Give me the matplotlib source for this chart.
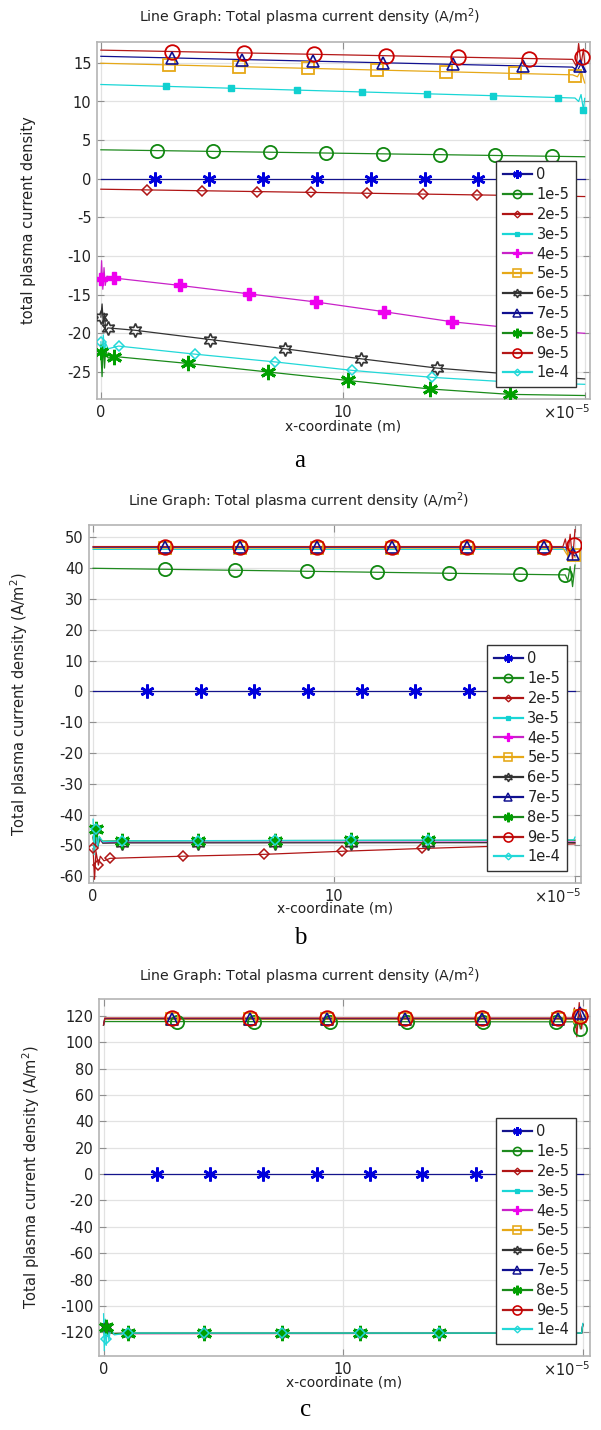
import numpy as np
import matplotlib
matplotlib.use('Agg')
import matplotlib.pyplot as plt

plt.rcParams['font.family'] = ['DejaVu Sans']
plt.rcParams['axes.unicode_minus'] = False

# 图例标签
labels = ['0', '1e-5', '2e-5', '3e-5', '4e-5', '5e-5', '6e-5', '7e-5', '8e-5', '9e-5', '1e-4']

# ---------------- 面板 a (x 单位: 1e-5 m) ----------------
a_x = [
    [0, 20],
    [0, 20],
    [0, 20],
    [0, 19.6, 19.75, 19.85, 19.95, 20],
    [0, 0.03, 0.08, 0.13, 0.18, 0.25, 0.56, 3.26, 6.13, 8.9, 11.7, 14.5, 17.3, 20],
    [0, 19.5, 19.7, 19.85, 20],
    [0, 0.05, 0.1, 0.15, 0.2, 0.29, 1.4, 4.5, 7.6, 10.76, 13.9, 17.0, 20],
    [0, 19.5, 19.7, 19.85, 20],
    [0, 0.05, 0.1, 0.15, 0.2, 0.3, 0.56, 3.6, 6.9, 10.2, 13.6, 16.9, 20],
    [0, 19.5, 19.65, 19.75, 19.85, 19.95, 20],
    [0, 0.05, 0.1, 0.15, 0.2, 0.3, 0.73, 3.9, 7.2, 10.4, 13.7, 16.9, 20],
]
a_y = [
    [0, 0],
    [3.75, 2.85],
    [-1.35, -2.3],
    [12.2, 10.45, 10.0, 10.9, 8.9, 10.4],
    [-13.0, -10.6, -14.3, -11.5, -13.8, -12.6, -12.85, -13.8, -14.9, -15.95, -17.2, -18.5, -19.4, -20.0],
    [14.95, 13.45, 13.2, 14.0, 12.4],
    [-17.9, -16.2, -18.8, -17.4, -19.8, -19.3, -19.6, -20.8, -22.0, -23.3, -24.5, -25.3, -25.9],
    [15.85, 14.45, 14.0, 14.9, 13.8],
    [-22.4, -25.6, -21.0, -24.5, -22.0, -23.2, -23.0, -23.9, -25.0, -26.1, -27.2, -27.9, -28.05],
    [16.65, 15.45, 14.6, 17.5, 14.8, 16.8, 15.0],
    [-21.1, -23.2, -20.2, -22.5, -21.3, -22.0, -21.65, -22.7, -23.7, -24.8, -25.7, -26.3, -26.6],
]
a_mx = [
    [2.23, 4.46, 6.69, 8.92, 11.15, 13.38, 15.6, 17.8],
    [2.3, 4.65, 7.0, 9.3, 11.65, 14.0, 16.3, 18.65],
    [1.9, 4.2, 6.45, 8.7, 11.0, 13.3, 15.55, 17.8],
    [2.7, 5.4, 8.1, 10.8, 13.5, 16.2, 18.9, 19.95],
    [0.0, 0.56, 3.26, 6.13, 8.9, 11.7, 14.5, 17.3],
    [2.83, 5.7, 8.57, 11.4, 14.25, 17.1, 19.6],
    [0.0, 0.29, 1.4, 4.5, 7.6, 10.76, 13.9, 17.0],
    [2.95, 5.85, 8.75, 11.65, 14.55, 17.45, 19.8],
    [0.0, 0.56, 3.6, 6.9, 10.2, 13.6, 16.9],
    [2.95, 5.9, 8.8, 11.8, 14.75, 17.7, 19.9],
    [0.0, 0.73, 3.9, 7.2, 10.4, 13.7, 16.9],
]

# ---------------- 面板 b ----------------
b_x = [
    [0, 20],
    [0, 19.6, 19.7, 19.8, 19.9, 20],
    [0, 0.06, 0.12, 0.22, 0.3, 0.45, 0.7, 3.75, 7.1, 10.35, 13.65, 20],
    [0, 19.6, 19.75, 19.9, 20],
    [0, 0.1, 0.2, 0.4, 20],
    [0, 19.5, 19.7, 19.85, 20],
    [0, 0.06, 0.13, 0.2, 0.28, 0.4, 1.2, 20],
    [0, 19.6, 19.8, 20],
    [0, 0.06, 0.13, 0.2, 0.28, 0.4, 1.2, 20],
    [0, 19.5, 19.6, 19.7, 19.8, 19.9, 20],
    [0, 0.04, 0.08, 0.13, 0.18, 0.25, 0.4, 1.2, 19.95, 20],
]
b_y = [
    [0, 0],
    [39.95, 37.8, 36.0, 40.5, 34.0, 41.0],
    [-51.0, -61.0, -52.0, -56.4, -53.5, -55.0, -54.2, -53.5, -52.9, -51.9, -51.0, -49.5],
    [46.1, 46.1, 45.0, 47.0, 45.5],
    [-45.0, -50.0, -48.0, -49.0, -48.9],
    [46.5, 46.5, 44.0, 46.0, 43.5],
    [-47.0, -51.5, -44.8, -50.5, -47.5, -49.3, -49.2, -49.1],
    [46.8, 46.8, 45.0, 44.0],
    [-47.5, -51.0, -44.6, -50.0, -47.8, -48.6, -48.5, -48.3],
    [47.0, 47.0, 49.5, 44.5, 51.0, 42.5, 52.5],
    [-41.5, -53.0, -44.0, -44.6, -51.0, -47.0, -48.8, -48.5, -48.2, -47.3],
]
b_mx = [
    [2.24, 4.47, 6.68, 8.9, 11.15, 13.35, 15.6, 17.8],
    [2.97, 5.9, 8.87, 11.8, 14.76, 17.7, 19.6],
    [0.0, 0.22, 0.7, 3.75, 7.1, 10.35, 13.65, 16.9],
    [],
    [],
    [3.0, 6.1, 9.3, 12.4, 15.5, 18.7, 19.95],
    [0.13, 1.2, 4.36, 7.55, 10.7, 13.9, 17.1],
    [3.0, 6.1, 9.3, 12.4, 15.5, 18.7, 19.9],
    [0.13, 1.2, 4.36, 7.55, 10.7, 13.9, 17.1],
    [3.0, 6.1, 9.3, 12.4, 15.5, 18.7, 19.95],
    [0.13, 1.2, 4.36, 7.55, 10.7, 13.9, 17.1],
]

# ---------------- 面板 c ----------------
c_x = [
    [0, 20],
    [0, 0.05, 19.6, 19.7, 19.8, 19.9, 20],
    [0, 0.1, 0.2, 0.4, 19.95, 20],
    [0, 0.05, 19.6, 19.75, 19.9, 20],
    [0, 0.1, 0.2, 0.4, 19.95, 20],
    [0, 0.05, 19.6, 19.75, 19.9, 20],
    [0, 0.05, 0.1, 0.15, 0.25, 0.4, 1.0, 19.95, 20],
    [0, 0.05, 19.6, 19.75, 19.9, 20],
    [0, 0.05, 0.1, 0.15, 0.25, 0.4, 1.0, 19.95, 20],
    [0, 0.05, 19.55, 19.65, 19.75, 19.85, 19.95, 20],
    [0, 0.03, 0.07, 0.11, 0.16, 0.22, 0.3, 0.45, 1.0, 19.95, 20],
]
c_y = [
    [0, 0],
    [113.0, 115.6, 115.4, 111.0, 119.0, 110.0, 117.0],
    [-116.0, -121.0, -120.0, -121.0, -120.8, -114.0],
    [113.0, 117.5, 117.5, 114.0, 121.0, 116.0],
    [-116.0, -121.0, -120.0, -121.0, -120.8, -114.0],
    [113.0, 117.2, 117.2, 113.0, 120.0, 115.0],
    [-114.0, -125.0, -116.0, -123.0, -119.5, -121.0, -120.8, -120.8, -114.0],
    [113.0, 117.8, 117.8, 115.0, 122.0, 116.0],
    [-115.0, -124.0, -116.0, -122.5, -120.0, -121.0, -120.7, -120.7, -114.0],
    [113.0, 118.3, 118.3, 126.0, 104.0, 130.0, 110.0, 118.0],
    [-106.0, -134.0, -110.0, -130.0, -114.0, -126.0, -117.0, -122.0, -120.6, -120.6, -113.3],
]
c_mx = [
    [2.23, 4.45, 6.67, 8.9, 11.1, 13.3, 15.55, 17.8],
    [3.06, 6.27, 9.44, 12.65, 15.84, 18.9, 19.9],
    [],
    [],
    [],
    [2.87, 6.1, 9.33, 12.57, 15.8, 18.95, 19.9],
    [0.1, 1.04, 4.2, 7.45, 10.7, 14.0, 17.2],
    [2.87, 6.1, 9.33, 12.57, 15.8, 18.95, 19.9],
    [0.1, 1.04, 4.2, 7.45, 10.7, 14.0, 17.2],
    [2.87, 6.1, 9.33, 12.57, 15.8, 18.95, 19.9],
    [0.1, 1.04, 4.2, 7.45, 10.7, 14.0, 17.2],
]

# 坐标轴范围与刻度
a_ylim = (-28.5, 17.7)
a_yticks = [-25, -20, -15, -10, -5, 0, 5, 10, 15]
b_ylim = (-62.2, 54.0)
b_yticks = [-60, -50, -40, -30, -20, -10, 0, 10, 20, 30, 40, 50]
c_ylim = (-138, 132.7)
c_yticks = [-120, -100, -80, -60, -40, -20, 0, 20, 40, 60, 80, 100, 120]

# 线型样式
line_colors = ['#14148c', '#1f8a1f', '#b01515', '#1ad6d6', '#c822c8', '#e6a817',
               '#333333', '#101090', '#1a8a1a', '#b41818', '#22d8d8']
mark_colors = ['#0000dd', '#118811', '#b01515', '#11d0d0', '#ee00ee', '#e6a817',
               '#333333', '#101090', '#00a000', '#cc0000', '#22d8d8']
markers = [(6, 2, 0), 'o', 'D', 's', 'P', 's', (6, 1, 0), '^', (6, 2, 0), 'o', 'D']
msizes = [10, 9.5, 5.5, 5, 9, 9, 10, 9, 11, 10.5, 5.5]
filled = [True, False, False, True, True, False, False, False, True, False, False]
mews = [1.9, 1.3, 1.1, 1.0, 1.0, 1.3, 1.2, 1.2, 2.1, 1.3, 1.1]
# 绘制顺序 (后画的在上层)
draw_order = [4, 2, 3, 6, 8, 10, 0, 1, 5, 7, 9]

W, H = 601, 1430
fig = plt.figure(figsize=(W / 100, H / 100), dpi=100)


def px_axes(left, right, top, bottom):
    return fig.add_axes([left / W, 1 - bottom / H, (right - left) / W, (bottom - top) / H])


def draw_panel(box, xs, ys, mxs, xlim, ylim, yticks, ylabel, ylabel_x, title_xy, xlabel_y,
               caption, caption_xy):
    left, right, top, bottom = box
    ax = px_axes(left, right, top, bottom)
    handles = {}
    for i in draw_order:
        x = np.array(xs[i], dtype=float)
        y = np.array(ys[i], dtype=float)
        mx = np.array(mxs[i], dtype=float)
        my = np.interp(mx, x, y)
        ax.plot(x, y, color=line_colors[i], lw=0.9, zorder=2 + i * 0.01)
        fc = mark_colors[i] if filled[i] else 'none'
        ax.plot(mx, my, ls='none', marker=markers[i], ms=msizes[i], mec=mark_colors[i],
                mfc=fc, mew=mews[i], zorder=3 + draw_order.index(i) * 0.01)
        h, = ax.plot([], [], color=line_colors[i], lw=1.6, marker=markers[i],
                     ms=msizes[i] * 0.62, mec=mark_colors[i], mfc=fc, mew=mews[i] * 0.9)
        handles[i] = h
    ax.set_xlim(*xlim)
    ax.set_ylim(*ylim)
    ax.set_yticks(yticks)
    ax.set_xticks([0, 10, 20])
    ax.set_xticklabels(['0', '10', ''])
    ax.grid(True, color='#e2e2e2', lw=0.9)
    ax.set_axisbelow(True)
    ax.tick_params(direction='in', length=5, width=0.8, color='#909090', labelsize=10.5,
                   labelcolor='#222222', top=True, right=True, pad=4)
    for s in ax.spines.values():
        s.set_color('#b4b4b4')
        s.set_linewidth(1.2)
    ax.text(1.0, -0.012, '\u00d710$^{-5}$', transform=ax.transAxes, ha='right', va='top',
            fontsize=10.5, color='#222222')
    leg = ax.legend([handles[i] for i in range(11)], labels, loc='lower right',
                    bbox_to_anchor=(1 - 14 / (right - left), 12 / (bottom - top)),
                    borderaxespad=0, fontsize=10.5, frameon=True, fancybox=False,
                    edgecolor='#333333', framealpha=1, handlelength=2.0, handletextpad=0.3,
                    labelspacing=0.33, borderpad=0.45)
    leg.get_frame().set_linewidth(1.0)
    leg.set_zorder(10)
    for t in leg.get_texts():
        t.set_color('#222222')

    fig.text(title_xy[0] / W, 1 - title_xy[1] / H,
             'Line Graph: Total plasma current density (A/m$^2$)',
             ha='center', va='center', fontsize=10.2, color='#222222')
    fig.text((left + right) / 2 / W, 1 - xlabel_y / H, 'x-coordinate (m)',
             ha='center', va='center', fontsize=10, color='#222222')
    fig.text(ylabel_x / W, 1 - (top + bottom) / 2 / H, ylabel, rotation=90,
             ha='center', va='center', fontsize=10.5, color='#222222')
    fig.text(caption_xy[0] / W, 1 - caption_xy[1] / H, caption, ha='center', va='center',
             fontsize=18, family='Liberation Serif', color='black')
    return ax


draw_panel((97, 590, 42, 399), a_x, a_y, a_mx, (-0.16, 20.22), a_ylim, a_yticks,
           'total plasma current density', 29, (310, 17), 426, 'a', (300, 461))
draw_panel((89, 581, 525, 883), b_x, b_y, b_mx, (-0.17, 20.25), b_ylim, b_yticks,
           'Total plasma current density (A/m$^2$)', 19, (299, 501), 908, 'b', (300, 938))
draw_panel((99, 590, 999, 1356), c_x, c_y, c_mx, (-0.19, 20.3), c_ylim, c_yticks,
           'Total plasma current density (A/m$^2$)', 31, (310, 976), 1382, 'c', (306, 1410))

fig.savefig('out.png', dpi=100, facecolor='white')
plt.close(fig)
